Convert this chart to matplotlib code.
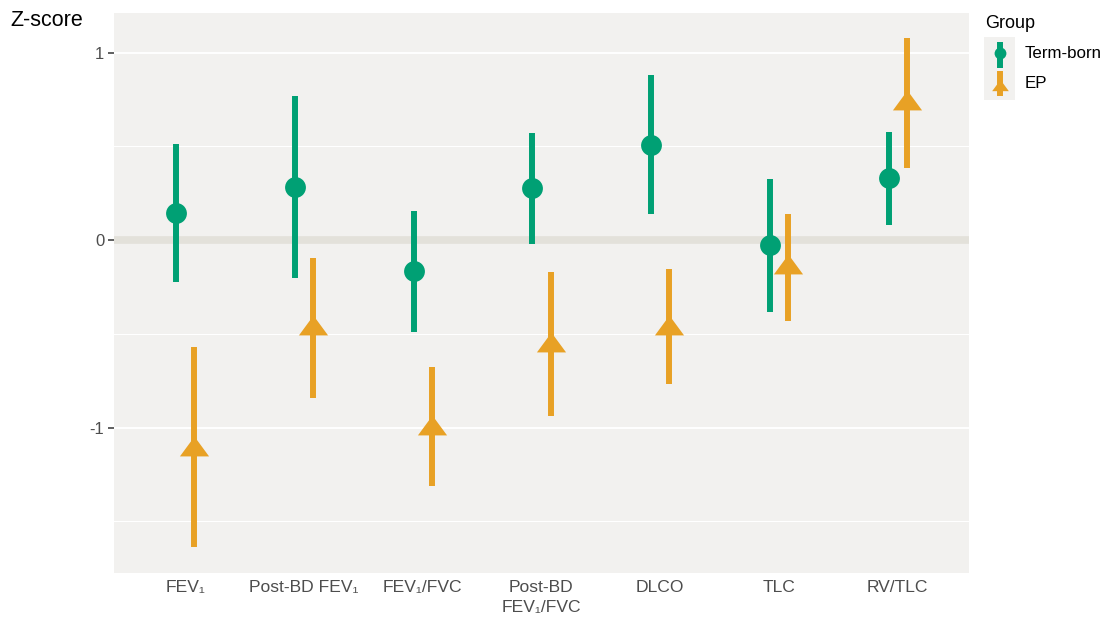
import matplotlib
matplotlib.use("Agg")
import matplotlib.pyplot as plt
import numpy as np
from matplotlib.patches import Rectangle

plt.rcParams['font.family'] = ['Liberation Sans', 'DejaVu Sans']

categories = ["FEV\u2081", "Post-BD FEV\u2081", "FEV\u2081/FVC", "Post-BD\nFEV\u2081/FVC", "DLCO", "TLC", "RV/TLC"]
groups = ["Term-born", "EP"]
term_mean = [0.146, 0.284, -0.165, 0.277, 0.507, -0.027, 0.331]
term_lo = [-0.224, -0.200, -0.490, -0.021, 0.139, -0.384, 0.080]
term_hi = [0.510, 0.768, 0.155, 0.571, 0.880, 0.325, 0.576]
ep_mean = [-1.096, -0.453, -0.987, -0.544, -0.453, -0.128, 0.747]
ep_lo = [-1.637, -0.843, -1.312, -0.939, -0.768, -0.432, 0.384]
ep_hi = [-0.572, -0.096, -0.677, -0.171, -0.155, 0.139, 1.077]

green = "#00A074"
orange = "#E8A125"
bg = "#F2F1EF"
W, H = 1104, 617
fig = plt.figure(figsize=(W/100, H/100), dpi=100)

def px_axes(x0, y0, x1, y1):
    return fig.add_axes([x0/W, 1 - y1/H, (x1-x0)/W, (y1-y0)/H])

ax = px_axes(114, 13, 969, 573)
ax.set_facecolor(bg)
for s in ax.spines.values():
    s.set_visible(False)

tri = [(-1, -0.68), (1, -0.68), (0, 0.68)]
x = np.arange(1, len(categories) + 1)
off = 0.076

# grid
for yv in [-1.5, -0.5, 0.5]:
    ax.axhline(yv, color="white", lw=0.8, zorder=0)
for yv in [-1, 1]:
    ax.axhline(yv, color="white", lw=1.4, zorder=0)
ax.axhline(0, color="#E3E1DA", lw=5.5, zorder=1)

ax.vlines(x - off, term_lo, term_hi, color=green, lw=4.3, zorder=3)
ax.plot(x - off, term_mean, 'o', color=green, ms=15, mew=0, zorder=4)
ax.vlines(x + off, ep_lo, ep_hi, color=orange, lw=4.3, zorder=3)
ax.plot(x + off, ep_mean, marker=tri, ls='none', color=orange, ms=21, mew=0, zorder=4)

ax.set_xlim(0.4, 7.6)
ax.set_ylim(-1.776, 1.211)
ax.set_xticks(x)
ax.set_xticklabels(categories, fontsize=12.6, color="#4D4D4D", linespacing=1.45)
ax.set_yticks([-1, 0, 1])
ax.set_yticklabels(["-1", "0", "1"], fontsize=12, color="#4D4D4D")
ax.tick_params(axis='x', length=0, pad=5)
ax.tick_params(axis='y', length=4, width=1.1, color="#333333", pad=3)

fig.text(10/W, 1 - 20/H, "Z-score", fontsize=15.5, color="black", va="center", ha="left")

# legend
fig.text(985/W, 1 - 24/H, "Group", fontsize=13, color="black", va="center", ha="left")
lax = px_axes(984, 37, 1015, 100)
lax.set_xlim(0, 31)
lax.set_ylim(63, 0)
lax.axis('off')
lax.add_patch(Rectangle((0, 0), 31, 63, color=bg, lw=0))
lax.vlines(15.5, 5, 31, color=green, lw=4.3)
lax.plot([15.5], [15.5], 'o', color=green, ms=8.5, mew=0)
lax.vlines(15.5, 34, 59, color=orange, lw=4.3)
lax.plot([15.5], [47.5], marker=tri, ls='none', color=orange, ms=12, mew=0)
fig.text(1025/W, 1 - 54/H, "Term-born", fontsize=12.2, color="black", va="center", ha="left")
fig.text(1025/W, 1 - 84/H, "EP", fontsize=12.2, color="black", va="center", ha="left")

fig.savefig("out.png", dpi=100)
